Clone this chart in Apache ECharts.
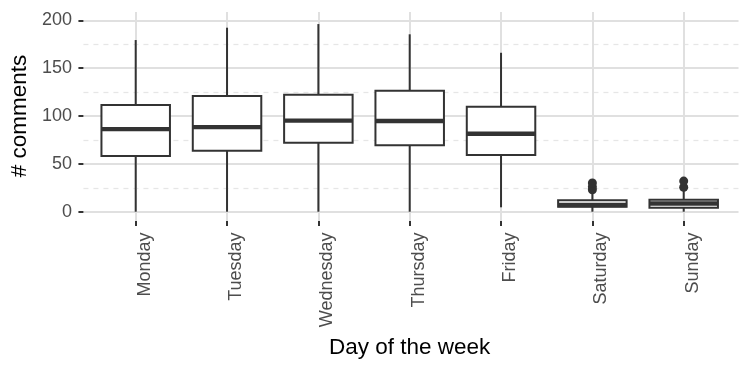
<!DOCTYPE html>
<html>
<head>
<meta charset="utf-8">
<script src="https://cdn.jsdelivr.net/npm/echarts@6/dist/echarts.min.js"></script>
<style>
  html, body { margin: 0; padding: 0; background: #ffffff; }
  #chart { width: 750px; height: 375px; }
</style>
</head>
<body>
<div id="chart"></div>
<script>
// ---- Data ----
const days = ['Monday', 'Tuesday', 'Wednesday', 'Thursday', 'Friday', 'Saturday', 'Sunday'];
const whiskerLow  = [0,     0,     0,     0,     4.6,   0,    0];
const q1Values    = [58.2,  63.7,  72.1,  69.4,  59.2,  5.2,  4.2];
const medians     = [86.4,  88.5,  95.1,  94.8,  81.5,  7.0,  8.6];
const q3Values    = [111.5, 120.9, 122.3, 126.4, 109.7, 11.9, 12.4];
const whiskerHigh = [179.4, 192.3, 196.1, 185.4, 166.1, 21,   24];
const outlierDays   = ['Saturday', 'Saturday', 'Saturday', 'Sunday', 'Sunday'];
const outlierValues = [23, 26, 30, 25.6, 32];
const yTicks = [0, 50, 100, 150, 200];

// ---- Build series data ----
const boxData = days.map((d, i) => [i, whiskerLow[i], q1Values[i], medians[i], q3Values[i], whiskerHigh[i]]);
const outlierData = outlierDays.map((d, i) => [days.indexOf(d), outlierValues[i]]);

const FONT = "'Liberation Sans', Arial, Helvetica, sans-serif";
const INK = '#333333';
const GRID_COLOR = '#e0e0e0';

const chart = echarts.init(document.getElementById('chart'), null, { renderer: 'canvas' });

function renderBox(params, api) {
  const i = api.value(0);
  const lo = api.coord([i, api.value(1)]);
  const q1 = api.coord([i, api.value(2)]);
  const med = api.coord([i, api.value(3)]);
  const q3 = api.coord([i, api.value(4)]);
  const hi = api.coord([i, api.value(5)]);
  const band = api.size([1, 0])[0];
  const w = band * 0.75;
  const cx = q1[0];
  return {
    type: 'group',
    children: [
      { type: 'line', shape: { x1: cx, y1: hi[1], x2: cx, y2: q3[1] },
        style: { stroke: INK, lineWidth: 2 } },
      { type: 'line', shape: { x1: cx, y1: q1[1], x2: cx, y2: lo[1] },
        style: { stroke: INK, lineWidth: 2 } },
      { type: 'rect', shape: { x: cx - w / 2, y: q3[1], width: w, height: q1[1] - q3[1] },
        style: { fill: '#ffffff', stroke: INK, lineWidth: 2 } },
      { type: 'line', shape: { x1: cx - w / 2, y1: med[1], x2: cx + w / 2, y2: med[1] },
        style: { stroke: INK, lineWidth: 4.3 } }
    ]
  };
}

const option = {
  backgroundColor: '#ffffff',
  animation: false,
  textStyle: { fontFamily: FONT },
  grid: [
    // grid 0: y axis labels + horizontal grid lines, 0..200 exactly
    { left: 81, right: 11.5, top: 20.3, bottom: 163.3, containLabel: false },
    // grid 1: the full panel height, category centres
    { left: 135.7, right: 66.3, top: 12, bottom: 154, containLabel: false }
  ],
  xAxis: [
    { type: 'value', gridIndex: 0, min: 0, max: 1, show: false },
    {
      type: 'category', gridIndex: 1, data: days, boundaryGap: false,
      axisLine: { show: false, onZero: false },
      axisTick: { show: true, length: 5, lineStyle: { color: INK, width: 2 } },
      splitLine: { show: true, lineStyle: { color: GRID_COLOR, width: 2 } },
      axisLabel: {
        rotate: 90, margin: 11.5, fontSize: 18, color: '#4d4d4d', fontFamily: FONT,
        interval: 0, verticalAlign: 'top'
      },
      name: 'Day of the week', nameLocation: 'middle', nameGap: 115,
      nameTextStyle: { fontSize: 22.5, color: '#000000', fontFamily: FONT }
    }
  ],
  yAxis: [
    {
      type: 'value', gridIndex: 0, min: yTicks[0], max: yTicks[yTicks.length - 1], interval: 50,
      axisLine: { show: false },
      axisTick: { show: true, length: 5, lineStyle: { color: INK, width: 2 } },
      axisLabel: { fontSize: 18, color: '#4d4d4d', margin: 11.5, fontFamily: FONT },
      splitLine: { show: true, lineStyle: { color: GRID_COLOR, width: 2 } },
      minorTick: { show: false, splitNumber: 2 },
      minorSplitLine: { show: true, lineStyle: { color: '#e6e6e6', width: 1.3, type: [5, 5] } },
      name: '# comments', nameLocation: 'middle', nameRotate: 90, nameGap: 43,
      nameTextStyle: { fontSize: 22.5, color: '#000000', fontFamily: FONT }
    },
    { type: 'value', gridIndex: 1, min: -9.7, max: 208.7, show: false }
  ],
  series: [
    {
      type: 'custom', xAxisIndex: 1, yAxisIndex: 1,
      renderItem: renderBox,
      encode: { x: 0, y: [1, 2, 3, 4, 5] },
      data: boxData,
      z: 2
    },
    {
      type: 'scatter', xAxisIndex: 1, yAxisIndex: 1,
      symbol: 'circle', symbolSize: 9,
      itemStyle: { color: INK, opacity: 1 },
      data: outlierData,
      z: 3
    }
  ]
};

chart.setOption(option);
</script>
</body>
</html>
